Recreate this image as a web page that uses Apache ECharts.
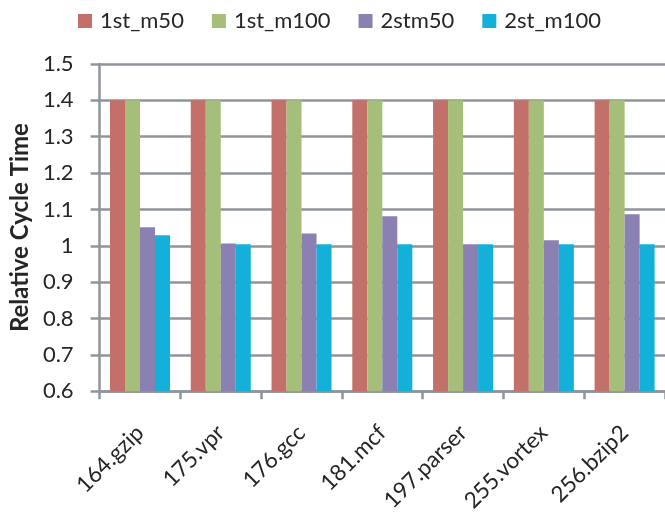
<!DOCTYPE html>
<html>
<head>
<meta charset="utf-8">
<script src="https://cdn.jsdelivr.net/npm/echarts@6/dist/echarts.min.js"></script>
<style>
  html, body { margin: 0; padding: 0; background: #ffffff; }
  #chart { width: 665px; height: 515px; }
</style>
</head>
<body>
<div id="chart"></div>
<script>
// Benchmarks on the category axis
const categories = ['164.gzip', '175.vpr', '176.gcc', '181.mcf', '197.parser', '255.vortex', '256.bzip2'];

// Relative cycle time per configuration
const first_m50  = [1.4, 1.4, 1.4, 1.4, 1.4, 1.4, 1.4];
const first_m100 = [1.4, 1.4, 1.4, 1.4, 1.4, 1.4, 1.4];
const second_m50 = [1.051, 1.006, 1.034, 1.081, 1.004, 1.015, 1.087];
const second_m100 = [1.029, 1.004, 1.004, 1.004, 1.004, 1.004, 1.004];

const seriesNames = ['1st_m50', '1st_m100', '2stm50', '2st_m100'];
const seriesColors = ['#C4706A', '#A5BF7B', '#8A80B2', '#14B0DA'];

const yTickValues = [0.6, 0.7, 0.8, 0.9, 1, 1.1, 1.2, 1.3, 1.4, 1.5];

const axisGray = '#8F959B';
const textColor = '#262626';
const fontFamily = 'Lato, "Open Sans", sans-serif';

const chart = echarts.init(document.getElementById('chart'), null, { renderer: 'canvas' });

const seriesData = [first_m50, first_m100, second_m50, second_m100];

chart.setOption({
  animation: false,
  backgroundColor: '#ffffff',
  textStyle: { fontFamily: fontFamily },
  legend: {
    top: 5,
    left: 73,
    itemWidth: 14,
    itemHeight: 14,
    itemGap: 28,
    icon: 'rect',
    data: seriesNames,
    textStyle: { fontSize: 22, color: textColor, fontFamily: fontFamily, padding: [0, 0, 0, 3] }
  },
  grid: { left: 96, right: -2, top: 64, bottom: 119, containLabel: false },
  xAxis: {
    type: 'category',
    data: categories,
    axisLine: { show: true, lineStyle: { color: axisGray, width: 2.5 } },
    axisTick: { show: true, length: 8, lineStyle: { color: axisGray, width: 2.5 } },
    axisLabel: { rotate: 45, fontSize: 22.5, color: textColor, margin: 38, fontFamily: fontFamily },
    splitLine: { show: false }
  },
  yAxis: {
    type: 'value',
    min: 0.6,
    max: 1.5,
    interval: 0.1,
    name: 'Relative Cycle Time',
    nameLocation: 'middle',
    nameGap: 64,
    nameTextStyle: { fontSize: 24, fontWeight: 'bold', color: textColor, fontFamily: fontFamily },
    axisLine: { show: true, lineStyle: { color: axisGray, width: 2.5 } },
    axisTick: { show: true, inside: false, length: 9, lineStyle: { color: axisGray, width: 2.5 } },
    axisLabel: {
      fontSize: 22,
      color: textColor,
      margin: 26,
      fontFamily: fontFamily,
      formatter: function (v) {
        const match = yTickValues.find(t => Math.abs(t - v) < 1e-6);
        return match === undefined ? '' : String(match);
      }
    },
    splitLine: { show: true, lineStyle: { color: axisGray, width: 2.5 } }
  },
  series: seriesNames.map((name, i) => ({
    name: name,
    type: 'bar',
    data: seriesData[i],
    barWidth: 15,
    barGap: '0%',
    itemStyle: { color: seriesColors[i] }
  }))
});
</script>
</body>
</html>
